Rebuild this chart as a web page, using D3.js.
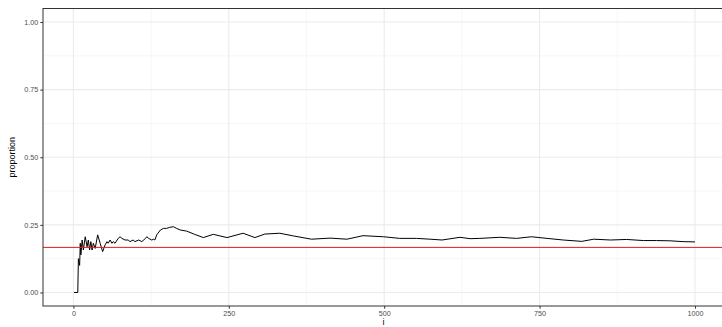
<!DOCTYPE html>
<html>
<head>
<meta charset="utf-8">
<script src="https://cdn.jsdelivr.net/npm/d3@7"></script>
<style>
  html, body { margin: 0; padding: 0; background: #fff; }
  svg { display: block; font-family: "Liberation Sans", Arial, Helvetica, sans-serif; }
</style>
</head>
<body>
<svg id="chart" width="722" height="327"></svg>
<script>
// Running proportion of sixes after i rolls of a fair die
const trialIndex = [1, 7, 8, 10, 11, 12, 14, 16, 19, 22, 24, 26, 28, 30, 32, 35, 39, 43, 47, 51, 54, 56, 59, 62, 64, 67, 72, 75, 78, 83, 88, 91, 96, 99, 105, 110, 116, 118, 121, 126, 129, 131, 134, 140, 145, 150, 155, 161, 166, 172, 182, 195, 209, 225, 247, 252, 273, 292, 308, 332, 354, 383, 413, 440, 466, 499, 525, 552, 574, 593, 622, 638, 654, 686, 713, 737, 762, 788, 818, 837, 864, 890, 917, 938, 960, 981, 1000];
const runningProportion = [0, 0, 0.125, 0.10, 0.182, 0.139, 0.194, 0.157, 0.206, 0.169, 0.194, 0.157, 0.188, 0.157, 0.182, 0.163, 0.213, 0.182, 0.151, 0.176, 0.188, 0.182, 0.194, 0.182, 0.188, 0.182, 0.200, 0.206, 0.200, 0.194, 0.194, 0.188, 0.194, 0.188, 0.194, 0.188, 0.200, 0.206, 0.200, 0.194, 0.197, 0.194, 0.213, 0.231, 0.237, 0.237, 0.241, 0.243, 0.237, 0.231, 0.227, 0.215, 0.203, 0.215, 0.203, 0.206, 0.219, 0.203, 0.216, 0.219, 0.209, 0.197, 0.201, 0.197, 0.210, 0.206, 0.200, 0.200, 0.197, 0.194, 0.204, 0.199, 0.200, 0.204, 0.200, 0.206, 0.200, 0.194, 0.189, 0.197, 0.194, 0.196, 0.192, 0.192, 0.191, 0.188, 0.187];
const expectedProportion = 1 / 6;

const xTicks = [0, 250, 500, 750, 1000];
const xMinor = [125, 375, 625, 875];
const yTicks = [0, 0.25, 0.5, 0.75, 1];
const yMinor = [0.125, 0.375, 0.625, 0.875];

const svg = d3.select("#chart");
const panel = { left: 43, top: 8.5, right: 726, bottom: 306 };

// Data range padded by 5% on each side
const x = d3.scaleLinear().domain([1 - 49.95, 1000 + 49.95]).range([panel.left, panel.right]);
const y = d3.scaleLinear().domain([-0.05, 1.05]).range([panel.bottom, panel.top]);

const g = svg.append("g");

// panel background
g.append("rect")
  .attr("x", panel.left).attr("y", panel.top)
  .attr("width", panel.right - panel.left).attr("height", panel.bottom - panel.top)
  .attr("fill", "#fff");

// minor grid
g.selectAll(".xminor").data(xMinor).join("line")
  .attr("x1", d => x(d)).attr("x2", d => x(d))
  .attr("y1", panel.top).attr("y2", panel.bottom)
  .attr("stroke", "#f2f2f2").attr("stroke-width", 0.6);
g.selectAll(".yminor").data(yMinor).join("line")
  .attr("x1", panel.left).attr("x2", panel.right)
  .attr("y1", d => y(d)).attr("y2", d => y(d))
  .attr("stroke", "#f2f2f2").attr("stroke-width", 0.6);

// major grid
g.selectAll(".xmajor").data(xTicks).join("line")
  .attr("x1", d => x(d)).attr("x2", d => x(d))
  .attr("y1", panel.top).attr("y2", panel.bottom)
  .attr("stroke", "#ebebeb").attr("stroke-width", 1.1);
g.selectAll(".ymajor").data(yTicks).join("line")
  .attr("x1", panel.left).attr("x2", panel.right)
  .attr("y1", d => y(d)).attr("y2", d => y(d))
  .attr("stroke", "#ebebeb").attr("stroke-width", 1.1);

// running proportion line
const line = d3.line().x((d, k) => x(trialIndex[k])).y(d => y(d));
g.append("path")
  .datum(runningProportion)
  .attr("d", line)
  .attr("fill", "none")
  .attr("stroke", "#000")
  .attr("stroke-width", 1)
  .attr("stroke-linejoin", "round");

// expected proportion reference line
g.append("line")
  .attr("x1", panel.left).attr("x2", panel.right)
  .attr("y1", y(expectedProportion)).attr("y2", y(expectedProportion))
  .attr("stroke", "#e8191b").attr("stroke-width", 1);

// panel border
g.append("rect")
  .attr("x", panel.left).attr("y", panel.top)
  .attr("width", panel.right - panel.left).attr("height", panel.bottom - panel.top)
  .attr("fill", "none").attr("stroke", "#333").attr("stroke-width", 1);

// axes
const xAxis = d3.axisBottom(x).tickValues(xTicks).tickFormat(d3.format("d")).tickSizeInner(2.7).tickSizeOuter(0).tickPadding(2);
const yAxis = d3.axisLeft(y).tickValues(yTicks).tickFormat(d3.format(".2f")).tickSizeInner(2.7).tickSizeOuter(0).tickPadding(2);

const gx = svg.append("g").attr("transform", `translate(0,${panel.bottom})`).call(xAxis);
const gy = svg.append("g").attr("transform", `translate(${panel.left},0)`).call(yAxis);
[gx, gy].forEach(a => {
  a.select(".domain").remove();
  a.selectAll(".tick line").attr("stroke", "#333").attr("stroke-width", 1);
  a.selectAll(".tick text").attr("fill", "#4d4d4d").style("font-size", "7.2px");
});

// axis titles
svg.append("text")
  .attr("x", (panel.left + panel.right) / 2 - 1)
  .attr("y", 324.5)
  .attr("text-anchor", "middle")
  .attr("fill", "#000")
  .style("font-size", "9px")
  .text("i");
svg.append("text")
  .attr("transform", `translate(14.5,${(panel.top + panel.bottom) / 2}) rotate(-90)`)
  .attr("text-anchor", "middle")
  .attr("fill", "#000")
  .style("font-size", "9px")
  .text("proportion");
</script>
</body>
</html>
